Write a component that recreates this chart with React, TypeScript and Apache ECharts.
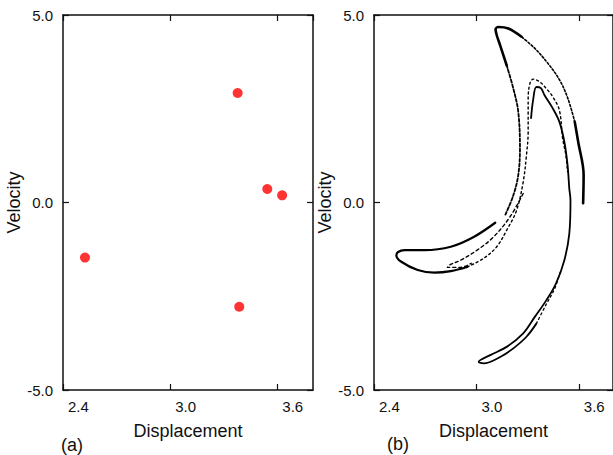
import React, { useEffect, useRef } from "react";
import * as echarts from "echarts";

// Panel (a): period-5 orbit points (displacement, velocity)
const orbitDisp = [3.378, 3.544, 3.627, 2.523, 3.387];
const orbitVel = [2.92, 0.36, 0.19, -1.47, -2.78];

// Panel (b): chaotic attractor, traced as strands of [displacement, velocity]
const outerRight = [[3.625, -0.02], [3.628, 0.73], [3.596, 1.62], [3.576, 2.15]];
const outerTop = [[3.576, 2.15], [3.536, 2.77], [3.488, 3.26], [3.419, 3.71], [3.342, 4.11], [3.264, 4.42]];
const outerTip = [[3.264, 4.42], [3.187, 4.64], [3.129, 4.68], [3.112, 4.62], [3.119, 4.46], [3.139, 4.19], [3.177, 3.66]];
const outerLeft = [[3.177, 3.66], [3.216, 3.04], [3.245, 2.42], [3.255, 1.44], [3.245, 0.73], [3.216, 0.19], [3.168, -0.34]];
const fishOuter = [
  [3.11, -0.54], [2.984, -0.92], [2.85, -1.18], [2.695, -1.27], [2.579, -1.27], [2.541, -1.32],
  [2.531, -1.41], [2.56, -1.58], [2.656, -1.8], [2.753, -1.87], [2.85, -1.83], [2.946, -1.72],
];
const midBand = [
  [2.946, -1.72], [3.042, -1.49], [3.119, -1.18], [3.177, -0.74], [3.235, -0.21], [3.274, 0.55],
  [3.293, 1.26], [3.303, 1.88], [3.303, 2.42], [3.303, 2.77], [3.313, 3.17], [3.332, 3.29],
  [3.37, 3.22], [3.409, 3.04], [3.447, 2.82], [3.486, 2.46], [3.505, 1.71], [3.524, 1.26], [3.534, 0.82],
];
const innerArc = [
  [3.32, 2.25], [3.332, 2.73], [3.351, 3.08], [3.378, 3.05], [3.399, 2.86], [3.447, 2.51],
  [3.486, 2.15], [3.515, 1.62], [3.534, 0.99], [3.544, 0.37], [3.551, 0.06], [3.544, -0.83],
  [3.515, -1.54], [3.466, -2.16], [3.409, -2.61], [3.342, -3.05], [3.274, -3.49], [3.177, -3.85],
  [3.081, -4.07], [3.013, -4.25], [3.042, -4.29], [3.139, -4.12], [3.216, -3.89], [3.293, -3.58], [3.351, -3.23],
];
const innerReturn = [[3.351, -3.23], [3.407, -2.73], [3.459, -2.29], [3.494, -1.81]];
const eyeBand = [
  [3.274, 0.24], [3.197, -0.38], [3.1, -0.92], [3.004, -1.27], [2.907, -1.54],
  [2.84, -1.67], [2.83, -1.73], [2.907, -1.73], [2.97, -1.62],
];

// Axis settings
const dispMin = 2.4;
const dispMax = 3.8;
const dispStep = 0.6;
const velMin = -5;
const velMax = 5;
const velStep = 5;

const FONT = "Liberation Sans, Arial, sans-serif";
const INK = "#111";

function strand(data: number[][], width: number, type: any) {
  return {
    type: "line",
    xAxisIndex: 2,
    yAxisIndex: 2,
    data,
    showSymbol: false,
    smooth: 0.35,
    silent: true,
    lineStyle: { color: "#000", width, type, cap: "round", join: "round" },
  };
}

function panelAxes(gridIndex: number) {
  const axisLine = { show: true, onZero: false, lineStyle: { color: INK, width: 1.5 } };
  const tick = { show: true, inside: true, length: 6, lineStyle: { color: INK, width: 1.2 } };
  const xMain = {
    type: "value",
    gridIndex,
    min: dispMin,
    max: dispMax,
    interval: dispStep,
    position: "bottom",
    axisLine,
    axisTick: tick,
    splitLine: { show: false },
    axisLabel: {
      show: true,
      showMaxLabel: false,
      align: "left",
      padding: [0, 0, 0, 5],
      margin: 9,
      fontSize: 15,
      fontFamily: FONT,
      color: INK,
      formatter: (v: number) => v.toFixed(1),
    },
    name: "Displacement",
    nameLocation: "middle",
    nameGap: 32,
    nameTextStyle: { fontSize: 18, fontFamily: FONT, color: INK },
  };
  const xTop = {
    type: "value",
    gridIndex,
    min: dispMin,
    max: dispMax,
    interval: dispStep,
    position: "top",
    axisLine,
    axisTick: tick,
    axisLabel: { show: false },
    splitLine: { show: false },
  };
  const yMain = {
    type: "value",
    gridIndex,
    min: velMin,
    max: velMax,
    interval: velStep,
    position: "left",
    axisLine,
    axisTick: tick,
    splitLine: { show: false },
    axisLabel: {
      margin: 10,
      fontSize: 15,
      fontFamily: FONT,
      color: INK,
      formatter: (v: number) => v.toFixed(1),
    },
    name: "Velocity",
    nameLocation: "middle",
    nameGap: gridIndex === 0 ? 37 : 39,
    nameTextStyle: { fontSize: 18, fontFamily: FONT, color: INK },
  };
  const yRight = {
    type: "value",
    gridIndex,
    min: velMin,
    max: velMax,
    interval: velStep,
    position: "right",
    axisLine,
    axisTick: tick,
    axisLabel: { show: false },
    splitLine: { show: false },
  };
  return { x: [xMain, xTop], y: [yMain, yRight] };
}

export default function App() {
  const ref = useRef<HTMLDivElement>(null);

  useEffect(() => {
    if (!ref.current) return;
    const chart = echarts.init(ref.current, null, { renderer: "svg" });
    const a = panelAxes(0);
    const b = panelAxes(1);

    chart.setOption({
      animation: false,
      backgroundColor: "#fff",
      grid: [
        { left: 63, top: 15, width: 250, height: 375 },
        { left: 374, top: 15, width: 242, height: 375 },
      ],
      // index order: 0 = (a) bottom/left, 1 = (a) top/right, 2 = (b) bottom/left, 3 = (b) top/right
      xAxis: [a.x[0], a.x[1], b.x[0], b.x[1]],
      yAxis: [a.y[0], a.y[1], b.y[0], b.y[1]],
      graphic: [
        { type: "text", left: 61, top: 436, style: { text: "(a)", fontSize: 18, fontFamily: FONT, fill: INK } },
        { type: "text", left: 387, top: 435, style: { text: "(b)", fontSize: 18, fontFamily: FONT, fill: INK } },
      ],
      series: [
        {
          type: "scatter",
          xAxisIndex: 0,
          yAxisIndex: 0,
          symbolSize: 10,
          itemStyle: { color: "#ff0000" },
          data: orbitDisp.map((d, i) => [d, orbitVel[i]]),
        },
        strand(outerRight, 2.6, "solid"),
        strand(outerTop, 1.6, [2, 2]),
        strand(outerTip, 2.6, "solid"),
        strand(outerLeft, 1.8, [3, 2]),
        strand(fishOuter, 2.2, "solid"),
        strand(midBand, 1.4, [2, 3]),
        strand(innerArc, 1.8, "solid"),
        strand(innerReturn, 1.3, [2, 3]),
        strand(eyeBand, 1.4, [3, 3]),
      ],
    });

    return () => chart.dispose();
  }, []);

  return (
    <div
      ref={ref}
      style={{ position: "fixed", left: 0, top: 0, width: 613, height: 455, background: "#fff" }}
    />
  );
}
